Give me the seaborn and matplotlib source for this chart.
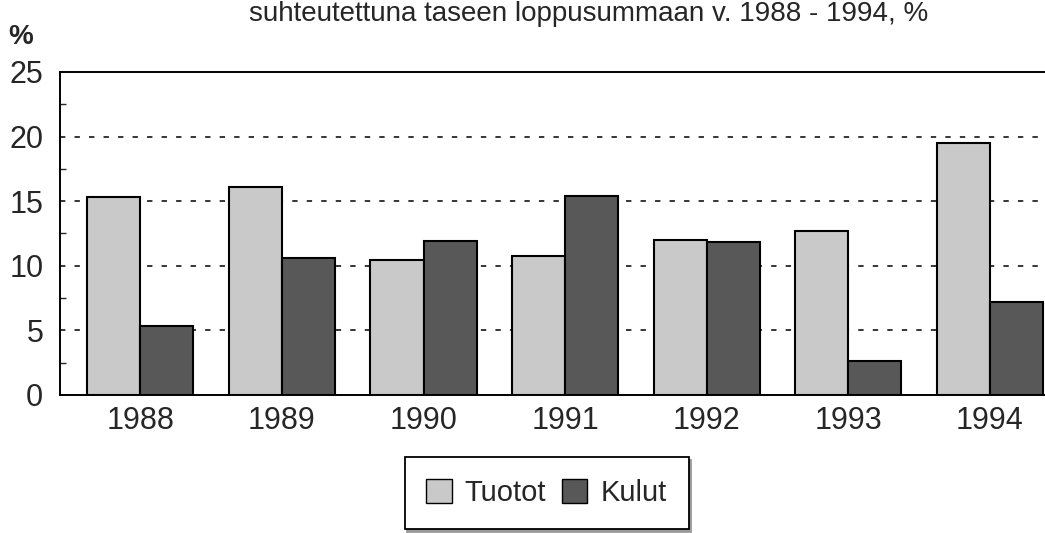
"""Tuotot ja kulut suhteessa taseen loppusummaan 1988-1994 — pylväskaavio"""

import numpy as np
import pandas as pd
import matplotlib
matplotlib.use('Agg')
import matplotlib.pyplot as plt
from matplotlib.ticker import MultipleLocator
import seaborn as sns

years = ['1988', '1989', '1990', '1991', '1992', '1993', '1994']
tuotot = [15.35, 16.1, 10.45, 10.75, 12.0, 12.7, 19.5]
kulut = [5.35, 10.6, 11.9, 15.4, 11.8, 2.6, 7.2]
series = ['Tuotot', 'Kulut']
colors = ['#c9c9c9', '#585858']
title = 'suhteutettuna taseen loppusummaan v. 1988 - 1994, %'

df = pd.DataFrame({
    'vuosi': years * 2,
    'arvo': tuotot + kulut,
    'sarja': [series[0]] * len(years) + [series[1]] * len(years),
})

sns.set_style('white')
plt.rcParams['font.family'] = ['Liberation Sans', 'DejaVu Sans']

fig = plt.figure(figsize=(10.45, 5.33), dpi=100)
ax = fig.add_axes([0.0574, 0.259, 0.96, 0.606])

sns.barplot(data=df, x='vuosi', y='arvo', hue='sarja', palette=colors,
            width=0.75, gap=0, edgecolor='black', linewidth=1.5,
            saturation=1, ax=ax, legend=True)

ax.set_xlim(-0.568, 6.518)
ax.set_ylim(0, 25)
ax.yaxis.set_major_locator(MultipleLocator(5))
ax.yaxis.set_minor_locator(MultipleLocator(2.5))
ax.set_xlabel('')
ax.set_ylabel('')

# katkoviivaiset apuviivat
for v in [5, 10, 15, 20]:
    ax.axhline(v, color='black', lw=1.1, dashes=(3.5, 6), zorder=0)

for s in ['left', 'top', 'bottom']:
    ax.spines[s].set_visible(True)
    ax.spines[s].set_color('black')
    ax.spines[s].set_linewidth(1.4)
ax.spines['right'].set_visible(False)

ax.tick_params(axis='y', which='both', direction='in', left=True, length=4,
               width=1, labelsize=22, pad=12)
ax.tick_params(axis='y', which='major', length=0)
ax.tick_params(axis='x', length=0, labelsize=22, pad=8)

fig.text(0.008, 0.93, '%', fontsize=20, fontweight='bold', va='center')
# otsikko on alkuperäisessä osin leikkautunut; tässä koko teksti näkyviin
fig.text(0.563, 0.999, title, fontsize=20, ha='center', va='top')

handles, labels = ax.get_legend_handles_labels()
leg = ax.legend(handles, labels, loc='center', bbox_to_anchor=(0.523, 0.075),
                bbox_transform=fig.transFigure, ncol=2, fontsize=21,
                frameon=True, fancybox=False, shadow={'color': '#9a9a9a', 'alpha': 1},
                handlelength=0.86, handleheight=0.86, handletextpad=0.45,
                columnspacing=0.55, borderpad=0.75, borderaxespad=0,
                edgecolor='black')
leg.get_frame().set_linewidth(1.3)
for h in leg.legend_handles:
    h.set_edgecolor('black')
    h.set_linewidth(1)

fig.savefig('out.png', dpi=100)
